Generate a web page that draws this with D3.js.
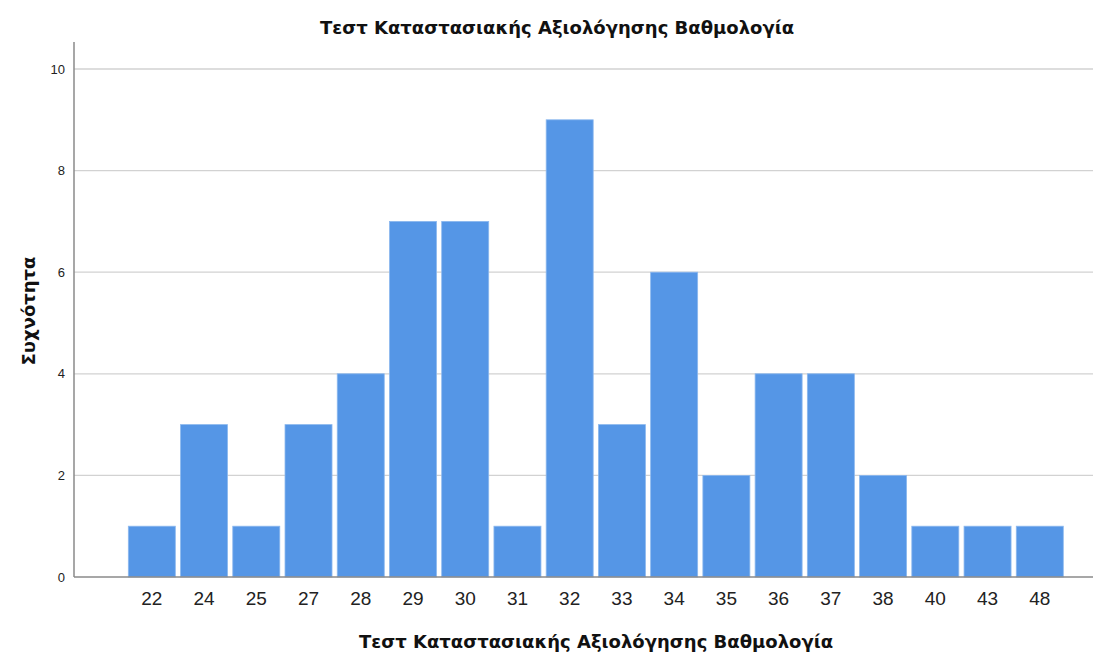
<!DOCTYPE html>
<html>
<head>
<meta charset="utf-8">
<script src="https://cdn.jsdelivr.net/npm/d3@7"></script>
<style>
  body { margin: 0; background: #fff; }
  text { font-family: Arial, "Liberation Sans", sans-serif; }
  .title { font-family: "DejaVu Sans", sans-serif; }
</style>
</head>
<body>
<svg id="chart" width="1105" height="653"></svg>
<script>
const scores = ["22", "24", "25", "27", "28", "29", "30", "31", "32", "33", "34", "35", "36", "37", "38", "40", "43", "48"]
const counts = [1, 3, 1, 3, 4, 7, 7, 1, 9, 3, 6, 2, 4, 4, 2, 1, 1, 1]
const yTicks = [0, 2, 4, 6, 8, 10]
const titleText = "Τεστ Καταστασιακής Αξιολόγησης Βαθμολογία"
const yTitle = "Συχνότητα"

const svg = d3.select("#chart")

const plotLeft = 74, plotRight = 1093, plotTop = 42, plotBottom = 577

const x = d3.scaleBand()
    .domain(scores)
    .range([125.7, 1065.9])
    .paddingInner(0.1)
    .paddingOuter(0.05)

const y = d3.scaleLinear()
    .domain([0, 10])
    .range([plotBottom, 69])

// grid lines
svg.append("g")
    .selectAll("line")
    .data(yTicks.filter(d => d > 0))
    .enter()
    .append("line")
        .attr("x1", plotLeft)
        .attr("x2", plotRight)
        .attr("y1", d => y(d))
        .attr("y2", d => y(d))
        .attr("stroke", "#d2d2d2")
        .attr("stroke-width", 1.3)

// bars
svg.append("g")
    .selectAll("rect")
    .data(counts)
    .enter()
    .append("rect")
        .attr("x", (_, i) => x(scores[i]))
        .attr("y", d => y(d))
        .attr("width", x.bandwidth())
        .attr("height", d => plotBottom - y(d))
        .attr("fill", "#5596e6")
        .attr("stroke", "#8cb8ee")
        .attr("stroke-width", 0.8)

// y axis
const yAxis = svg.append("g")
    .attr("transform", `translate(${plotLeft},0)`)
    .call(d3.axisLeft(y).tickValues(yTicks).tickSize(0).tickPadding(9))
yAxis.select(".domain").remove()
yAxis.selectAll("text").attr("font-size", 13).attr("fill", "#222")

svg.append("line")
    .attr("x1", plotLeft).attr("x2", plotLeft)
    .attr("y1", plotTop).attr("y2", plotBottom)
    .attr("stroke", "#8a8a8a").attr("stroke-width", 1.5)

// x axis
const xAxis = svg.append("g")
    .attr("transform", `translate(0,${plotBottom})`)
    .call(d3.axisBottom(x).tickSize(0).tickPadding(15))
xAxis.select(".domain").remove()
xAxis.selectAll("text").attr("font-size", 19).attr("fill", "#222")

svg.append("line")
    .attr("x1", plotLeft).attr("x2", plotRight)
    .attr("y1", plotBottom).attr("y2", plotBottom)
    .attr("stroke", "#8a8a8a").attr("stroke-width", 1.5)

// titles
svg.append("text")
    .attr("class", "title")
    .attr("x", 557).attr("y", 34)
    .attr("text-anchor", "middle")
    .attr("font-size", 18)
    .attr("font-weight", "bold")
    .attr("fill", "#111")
    .text(titleText)

svg.append("text")
    .attr("class", "title")
    .attr("x", 596).attr("y", 648)
    .attr("text-anchor", "middle")
    .attr("font-size", 18)
    .attr("font-weight", "bold")
    .attr("fill", "#111")
    .text(titleText)

svg.append("text")
    .attr("class", "title")
    .attr("transform", `translate(35,311) rotate(-90)`)
    .attr("text-anchor", "middle")
    .attr("font-size", 18)
    .attr("font-weight", "bold")
    .attr("fill", "#111")
    .text(yTitle)
</script>
</body>
</html>
